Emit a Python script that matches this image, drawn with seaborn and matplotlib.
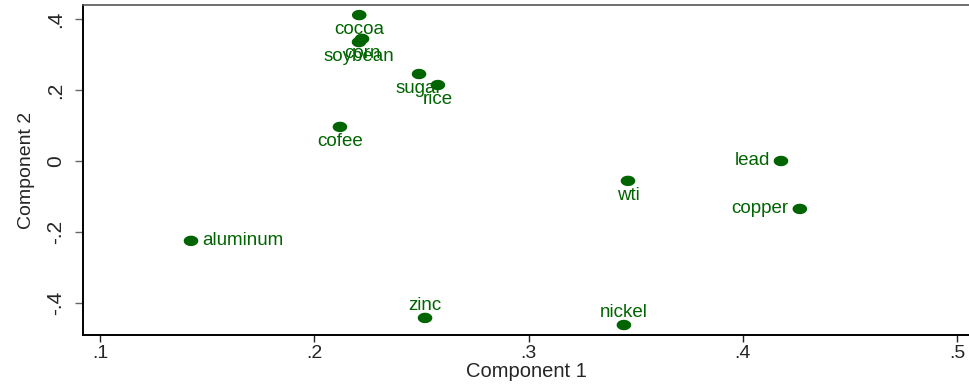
import numpy as np
import pandas as pd
import matplotlib
matplotlib.use("Agg")
import matplotlib.pyplot as plt
from matplotlib.path import Path
import seaborn as sns

# ---- data ----
names = ["cocoa", "corn", "soybean", "sugar", "rice", "cofee",
         "lead", "wti", "copper", "aluminum", "zinc", "nickel"]
comp1 = [0.221, 0.2223, 0.2209, 0.2489, 0.2577, 0.212,
         0.4178, 0.3464, 0.4266, 0.1425, 0.2517, 0.3445]
comp2 = [0.411, 0.344, 0.335, 0.245, 0.214, 0.096,
         0.0, -0.056, -0.135, -0.225, -0.442, -0.462]
# label position: clock style as in Stata (6 = below, 9 = left, 3 = right, 12 = above)
label_pos = [6, 6, 6, 6, 6, 6, 9, 6, 9, 3, 12, 12]

xticks = [0.1, 0.2, 0.3, 0.4, 0.5]
xticklabels = [".1", ".2", ".3", ".4", ".5"]
yticks = [-0.4, -0.2, 0.0, 0.2, 0.4]
yticklabels = ["-.4", "-.2", "0", ".2", ".4"]

df = pd.DataFrame({"Component 1": comp1, "Component 2": comp2, "name": names})

sns.set_style("white")
plt.rcParams["font.family"] = ["Liberation Sans", "DejaVu Sans"]

fig = plt.figure(figsize=(9.70, 3.84), dpi=100)
ax = fig.add_axes([83 / 970, 49 / 384, 1 - 83 / 970, (335 - 5) / 384])

green = "#006400"
# ellipse marker (wider than tall, like the reference)
t = np.linspace(0, 2 * np.pi, 60)
ell = Path(np.column_stack([1.4 * np.cos(t), np.sin(t)]), closed=True)

sns.scatterplot(data=df, x="Component 1", y="Component 2", ax=ax,
                color=green, marker=ell, s=110, edgecolor="none", linewidth=0,
                zorder=3)

offs = {6: (0, -4.5, "center", "top"), 9: (-8, 0, "right", "center"),
        3: (8, 0, "left", "center"), 12: (0, 3, "center", "bottom")}
for n, x, y, p in zip(names, comp1, comp2, label_pos):
    dx, dy, ha, va = offs[p]
    ax.annotate(n, (x, y), xytext=(dx, dy), textcoords="offset points",
                ha=ha, va=va, color=green, fontsize=13.5)

ax.set_xlim(0.0921, 0.506)
ax.set_ylim(-0.4901, 0.4394)
ax.set_xticks(xticks)
ax.set_xticklabels(xticklabels, fontsize=14)
ax.set_yticks(yticks)
ax.set_yticklabels(yticklabels, fontsize=15, rotation=90, va="center")
ax.tick_params(axis="x", direction="out", length=5, width=1, color="#222222", pad=2, bottom=True)
ax.tick_params(axis="y", direction="out", length=6, width=1, color="#666666", pad=7, left=True)

ax.set_xlabel("Component 1", fontsize=14.5, labelpad=0)
ax.set_ylabel("Component 2", fontsize=14, labelpad=8)

for s in ["left", "bottom"]:
    ax.spines[s].set_color("black")
    ax.spines[s].set_linewidth(1.4)
ax.spines["top"].set_color("#555555")
ax.spines["top"].set_linewidth(1.2)
ax.spines["right"].set_visible(False)
ax.grid(False)

fig.savefig("out.png", dpi=100)
